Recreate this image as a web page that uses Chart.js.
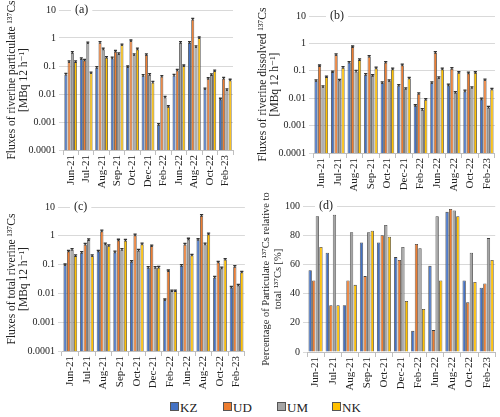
<!DOCTYPE html>
<html lang="en">
<head>
    <meta charset="UTF-8">
    <title>137Cs fluxes</title>
    <style>
        body { margin: 0; background: #fff; }
        #wrap { position: relative; width: 500px; height: 417px; font-family: "Liberation Serif", "DejaVu Serif", "Times New Roman", serif; }
        .panel { position: absolute; }
        #legend { position: absolute; top: 400px; left: 0; width: 500px; height: 16px; font-size: 13px; color: #222; }
        #legend span.item { position: absolute; top: 0; }
        #legend i { display: inline-block; width: 7px; height: 7px; border: 1px solid #555; margin-right: 1px; vertical-align: 1px; }
    </style>
</head>
<body>
<div id="wrap">
    <div class="panel" style="left:0;top:0;width:250px;height:195px"><canvas id="chartA"></canvas></div>
    <div class="panel" style="left:250px;top:0;width:250px;height:195px"><canvas id="chartB"></canvas></div>
    <div class="panel" style="left:0;top:195px;width:250px;height:200px"><canvas id="chartC"></canvas></div>
    <!-- (d) starts higher so its long axis title has room -->
    <div class="panel" style="left:250px;top:180px;width:250px;height:215px"><canvas id="chartD"></canvas></div>
    <div id="legend"></div>
</div>

<script src="https://cdn.jsdelivr.net/npm/chart.js@4.4.1/dist/chart.umd.min.js"></script>
<script>
// sampling campaigns
var months = ['Jun-21', 'Jul-21', 'Aug-21', 'Sep-21', 'Oct-21', 'Dec-21', 'Feb-22', 'Jun-22', 'Aug-22', 'Oct-22', 'Feb-23'];
var sites = ['KZ', 'UD', 'UM', 'NK'];
var siteColors = ['#4472C4', '#ED7D31', '#A5A5A5', '#FFC000'];

var logTicks = [0.0001, 0.001, 0.01, 0.1, 1, 10];
var pctTicks = [0, 20, 40, 60, 80, 100];

// (a) particulate fluxes [MBq 12 h-1]
var partKZ = [0.05, 0.18, 0.087, 0.19, 0.092, 0.045, 0.0008, 0.046, 0.68, 0.015, 0.0065];
var partUD = [0.14, 0.16, 0.68, 0.33, 0.78, 0.25, 0.042, 0.07, 4.6, 0.035, 0.036];
var partUM = [0.30, 0.66, 0.40, 0.27, 0.25, 0.049, 0.0076, 0.68, 0.48, 0.048, 0.014];
var partNK = [0.14, 0.056, 0.2, 0.56, 0.4, 0.026, 0.0035, 0.1, 1.0, 0.066, 0.031];

// (b) dissolved fluxes
var dissKZ = [0.043, 0.09, 0.2, 0.072, 0.036, 0.029, 0.0053, 0.036, 0.03, 0.018, 0.0092];
var dissUD = [0.15, 0.38, 0.74, 0.33, 0.2, 0.16, 0.0145, 0.46, 0.12, 0.082, 0.046];
var dissUM = [0.026, 0.045, 0.095, 0.066, 0.043, 0.022, 0.0038, 0.055, 0.016, 0.024, 0.0046];
var dissNK = [0.059, 0.13, 0.25, 0.125, 0.115, 0.053, 0.0089, 0.115, 0.085, 0.085, 0.021];

// (c) total fluxes
var totKZ = [0.097, 0.26, 0.29, 0.27, 0.127, 0.078, 0.0059, 0.092, 0.73, 0.036, 0.016];
var totUD = [0.29, 0.5, 1.45, 0.7, 1.05, 0.44, 0.06, 0.5, 5.0, 0.12, 0.085];
var totUM = [0.33, 0.72, 0.51, 0.33, 0.31, 0.078, 0.012, 0.76, 0.51, 0.075, 0.019];
var totNK = [0.2, 0.2, 0.45, 0.69, 0.51, 0.08, 0.012, 0.21, 1.14, 0.15, 0.054];

// (d) particulate share of total [%]
var pctKZ = [56, 68, 32, 75, 75, 65, 14.5, 59, 96, 49, 44];
var pctUD = [49, 32, 49, 52, 80, 63, 74, 15, 98, 34, 47];
var pctUM = [93, 94, 82, 82, 87, 72, 71, 93, 97, 68, 78];
var pctNK = [72, 32, 46, 83, 79, 35, 29.5, 49, 93, 48, 63];

var serif = '"Liberation Serif", "DejaVu Serif", "Times New Roman", serif';
Chart.defaults.font.family = serif;
Chart.defaults.color = '#222';

function makeDatasets(series) {
    return series.map(function (vals, i) {
        return {
            label: sites[i],
            data: vals,
            backgroundColor: siteColors[i],
            borderColor: '#404040',
            borderWidth: 0.8,
            categoryPercentage: 0.84,
            barPercentage: 0.92
        };
    });
}

// panel letter with a white box that cuts the top gridline
var panelTag = {
    id: 'panelTag',
    afterDraw: function (chart, args, opts) {
        var ctx = chart.ctx, area = chart.chartArea;
        ctx.save();
        ctx.font = '12px ' + serif;
        var w = ctx.measureText(opts.text).width;
        var x = area.left + opts.dx, y = area.top;
        ctx.fillStyle = '#fff';
        ctx.fillRect(x - 4, y - 7, w + 8, 14);
        ctx.fillStyle = '#222';
        ctx.textBaseline = 'middle';
        ctx.fillText(opts.text, x, y);
        ctx.restore();
    }
};

// two-line rotated y title, not squeezed to the axis height
var yTitle = {
    id: 'yTitle',
    afterDraw: function (chart, args, opts) {
        var ctx = chart.ctx, area = chart.chartArea;
        var cy = (area.top + area.bottom) / 2;
        ctx.save();
        ctx.font = opts.size + 'px ' + serif;
        ctx.fillStyle = '#222';
        ctx.textAlign = 'center';
        ctx.textBaseline = 'middle';
        opts.lines.forEach(function (line, i) {
            ctx.save();
            ctx.translate(opts.xs[i], cy);
            ctx.rotate(-Math.PI / 2);
            ctx.fillText(line, 0, 0);
            ctx.restore();
        });
        ctx.restore();
    }
};

// small error-bar caps on bar tops (log panels)
var barCaps = {
    id: 'barCaps',
    afterDatasetsDraw: function (chart, args, opts) {
        if (!opts.show) return;
        var ctx = chart.ctx;
        ctx.save();
        ctx.strokeStyle = '#333';
        ctx.lineWidth = 1.3;
        chart.data.datasets.forEach(function (ds, i) {
            chart.getDatasetMeta(i).data.forEach(function (bar) {
                var hw = bar.width / 2;
                ctx.beginPath();
                ctx.moveTo(bar.x - hw, bar.y - 1);
                ctx.lineTo(bar.x + hw, bar.y - 1);
                ctx.moveTo(bar.x, bar.y - 1);
                ctx.lineTo(bar.x, bar.y + 1);
                ctx.stroke();
            });
        });
        ctx.restore();
    }
};

function makeChart(id, series, isLog, title, tag, box) {
    var yScale = {
        type: isLog ? 'logarithmic' : 'linear',
        min: isLog ? logTicks[0] : pctTicks[0],
        max: isLog ? logTicks[logTicks.length - 1] : pctTicks[pctTicks.length - 1],
        afterBuildTicks: function (scale) {
            scale.ticks = (isLog ? logTicks : pctTicks).map(function (v) { return { value: v }; });
        },
        afterFit: function (scale) { scale.width = box.yw; },
        border: { display: false },
        grid: { color: '#d9d9d9', lineWidth: 1, tickLength: 4, tickColor: '#d9d9d9' },
        ticks: {
            font: { size: 10 },
            padding: 3,
            callback: function (v) { return String(v); }
        }
    };
    return new Chart(document.getElementById(id), {
        type: 'bar',
        data: { labels: months, datasets: makeDatasets(series) },
        options: {
            responsive: true,
            maintainAspectRatio: false,
            animation: false,
            layout: { padding: { top: box.top, right: box.right, bottom: 0, left: 0 } },
            plugins: {
                legend: { display: false },
                tooltip: { enabled: false },
                panelTag: { text: tag, dx: box.tagDx },
                yTitle: { lines: title, xs: box.titleX, size: box.titleSize },
                barCaps: { show: isLog }
            },
            scales: {
                x: {
                    offset: true,
                    afterFit: function (scale) { scale.height = box.xh; },
                    border: { display: true, color: '#bfbfbf' },
                    grid: { offset: true, drawOnChartArea: false, tickLength: 5, color: '#bfbfbf' },
                    ticks: { font: { size: 11 }, minRotation: 90, maxRotation: 90, padding: 0, autoSkip: false }
                },
                y: yScale
            }
        },
        plugins: [panelTag, yTitle, barCaps]
    });
}

makeChart('chartA', [partKZ, partUD, partUM, partNK], true,
    ['Fluxes of riverine particulate \u00B9\u00B3\u2077Cs', '[MBq 12 h\u207B\u00B9]'], '(a)',
    { yw: 63, top: 10, right: 17, xh: 45, tagDx: 12, titleSize: 11.5, titleX: [12, 24] });
makeChart('chartB', [dissKZ, dissUD, dissUM, dissNK], true,
    ['Fluxes of riverine dissolved \u00B9\u00B3\u2077Cs', '[MBq 12 h\u207B\u00B9]'], '(b)',
    { yw: 63, top: 16, right: 2, xh: 42, tagDx: 17, titleSize: 11.5, titleX: [13, 25] });
makeChart('chartC', [totKZ, totUD, totUM, totNK], true,
    ['Fluxes of total riverine \u00B9\u00B3\u2077Cs', '[MBq 12 h\u207B\u00B9]'], '(c)',
    { yw: 62, top: 12, right: 5, xh: 44, tagDx: 12, titleSize: 11.5, titleX: [12, 24] });
makeChart('chartD', [pctKZ, pctUD, pctUM, pctNK], false,
    ['Percentage of Particulate \u00B9\u00B3\u2077Cs relative to', 'total \u00B9\u00B3\u2077Cs [%]'], '(d)',
    { yw: 57, top: 26, right: 3, xh: 43, tagDx: 12, titleSize: 10.5, titleX: [16, 28] });

// shared legend
var legendPos = [170, 223, 277, 332];
var legend = document.getElementById('legend');
sites.forEach(function (s, i) {
    var item = document.createElement('span');
    item.className = 'item';
    item.style.left = legendPos[i] + 'px';
    item.innerHTML = '<i style="background:' + siteColors[i] + '"></i>' + s;
    legend.appendChild(item);
});
</script>
</body>
</html>
